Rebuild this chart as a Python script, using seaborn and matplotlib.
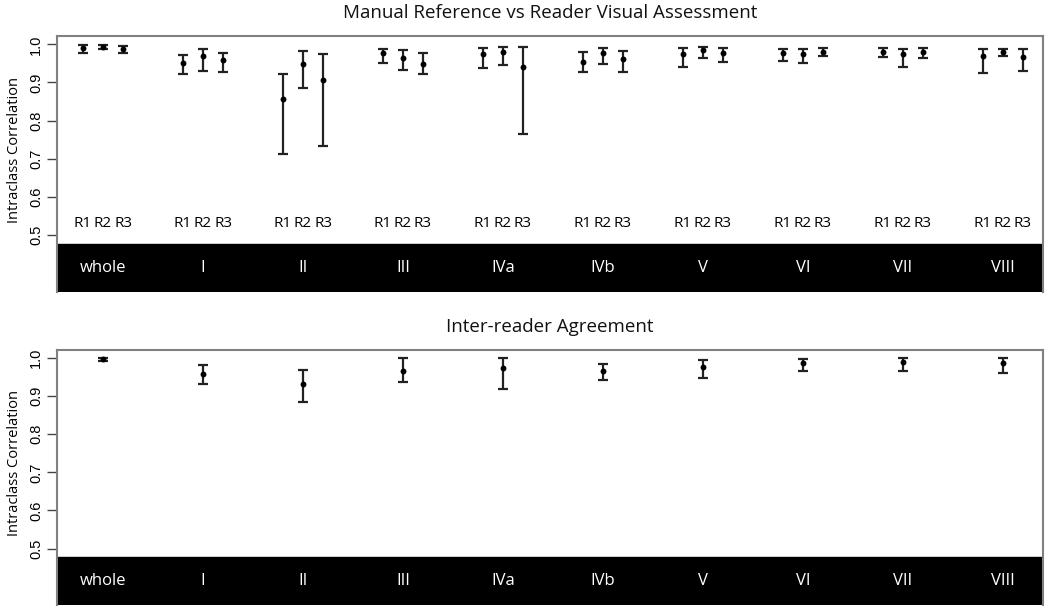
#!/usr/bin/env python3
"""
Intraclass correlation per liver segment: manual reference vs reader
visual assessment (R1-R3), and inter-reader agreement.
"""
import numpy as np
import matplotlib
matplotlib.use("Agg")
import matplotlib.pyplot as plt
import seaborn as sns

# Segments and readers
segments = ["whole", "I", "II", "III", "IVa", "IVb", "V", "VI", "VII", "VIII"]
readers = ["R1", "R2", "R3"]

# Manual reference vs reader: ICC estimate and 95% CI, one row per segment (R1, R2, R3)
reader_icc = [
    [0.990, 0.993, 0.989],
    [0.950, 0.969, 0.959],
    [0.857, 0.949, 0.906],
    [0.978, 0.965, 0.948],
    [0.975, 0.979, 0.941],
    [0.954, 0.978, 0.961],
    [0.974, 0.985, 0.978],
    [0.978, 0.975, 0.981],
    [0.979, 0.975, 0.979],
    [0.970, 0.981, 0.968],
]
reader_lower = [
    [0.978, 0.987, 0.976],
    [0.922, 0.931, 0.927],
    [0.712, 0.885, 0.733],
    [0.950, 0.933, 0.922],
    [0.939, 0.945, 0.764],
    [0.927, 0.948, 0.927],
    [0.940, 0.963, 0.954],
    [0.956, 0.950, 0.969],
    [0.966, 0.941, 0.963],
    [0.926, 0.969, 0.930],
]
reader_upper = [
    [0.997, 0.998, 0.996],
    [0.972, 0.987, 0.978],
    [0.923, 0.982, 0.974],
    [0.989, 0.985, 0.978],
    [0.991, 0.993, 0.993],
    [0.981, 0.991, 0.982],
    [0.991, 0.993, 0.991],
    [0.989, 0.989, 0.991],
    [0.991, 0.989, 0.991],
    [0.987, 0.989, 0.987],
]

# Inter-reader agreement: ICC estimate and 95% CI per segment
inter_icc = [0.997, 0.959, 0.933, 0.967, 0.975, 0.965, 0.977, 0.986, 0.990, 0.987]
inter_lower = [0.992, 0.931, 0.884, 0.936, 0.919, 0.941, 0.948, 0.965, 0.965, 0.961]
inter_upper = [1.000, 0.981, 0.968, 1.000, 1.000, 0.984, 0.995, 0.998, 1.000, 1.000]

sns.set_style("white")
plt.rcParams["font.family"] = ["Open Sans", "DejaVu Sans"]
plt.rcParams["text.color"] = "black"
plt.rcParams["axes.labelcolor"] = "black"
plt.rcParams["ytick.labelcolor"] = "black"

GROUP_STEP = 5
YLIM = (0.352, 1.021)
BAND_TOP = 0.478


def style_panel(ax, title):
    ax.set_xlim(-0.3, 49.0)
    ax.set_ylim(*YLIM)
    ax.axhspan(YLIM[0], BAND_TOP, color="black", zorder=0)
    for i, seg in enumerate(segments):
        ax.text(GROUP_STEP * i + 2, (YLIM[0] + BAND_TOP) / 2, seg,
                color="white", ha="center", va="center", fontsize=12)
    ax.set_title(title, fontsize=13.5, pad=13, color="#111111")
    ax.set_ylabel("Intraclass Correlation", fontsize=10.5)
    ax.yaxis.set_label_coords(-0.036, 0.555)
    ax.set_yticks([0.5, 0.6, 0.7, 0.8, 0.9, 1.0])
    ax.set_yticklabels(["0.5", "0.6", "0.7", "0.8", "0.9", "1.0"],
                       rotation=90, va="center", fontsize=10.5,
                       family="Liberation Sans")
    ax.tick_params(axis="y", left=True, length=7, width=1, color="#444444", pad=3)
    ax.set_xticks([])
    for sp in ax.spines.values():
        sp.set_color("#808080")
        sp.set_linewidth(1.5)
    ax.spines["bottom"].set_visible(False)


fig = plt.figure(figsize=(10.5, 6.07), dpi=100)
ax_top = fig.add_axes([0.0543, 0.5194, 0.939, 0.4208])
ax_bot = fig.add_axes([0.0543, 0.0033, 0.939, 0.4201])

# Top panel: manual reference vs each reader
est = np.array(reader_icc)
lo = np.array(reader_lower)
hi = np.array(reader_upper)
xs = np.array([[GROUP_STEP * g + r + 1 for r in range(len(readers))]
               for g in range(len(segments))])
ax_top.errorbar(xs.ravel(), est.ravel(),
                yerr=[est.ravel() - lo.ravel(), hi.ravel() - est.ravel()],
                fmt="none", ecolor="#222222", elinewidth=1.6, capsize=3.7,
                capthick=1.6, zorder=2)
sns.scatterplot(x=xs.ravel(), y=est.ravel(), color="black", s=18,
                edgecolor="black", linewidth=0, ax=ax_top, zorder=3)
for g in range(len(segments)):
    for r, lab in enumerate(readers):
        ax_top.text(xs[g, r], 0.53, lab, ha="center", va="center", fontsize=11)
style_panel(ax_top, "Manual Reference vs Reader Visual Assessment")

# Bottom panel: inter-reader agreement
est_b = np.array(inter_icc)
xb = np.array([GROUP_STEP * g + 2 for g in range(len(segments))])
ax_bot.errorbar(xb, est_b,
                yerr=[est_b - np.array(inter_lower), np.array(inter_upper) - est_b],
                fmt="none", ecolor="#222222", elinewidth=1.6, capsize=3.7,
                capthick=1.6, zorder=2)
sns.scatterplot(x=xb, y=est_b, color="black", s=18, edgecolor="black",
                linewidth=0, ax=ax_bot, zorder=3)
style_panel(ax_bot, "Inter-reader Agreement")

fig.savefig("out.png", dpi=100)
